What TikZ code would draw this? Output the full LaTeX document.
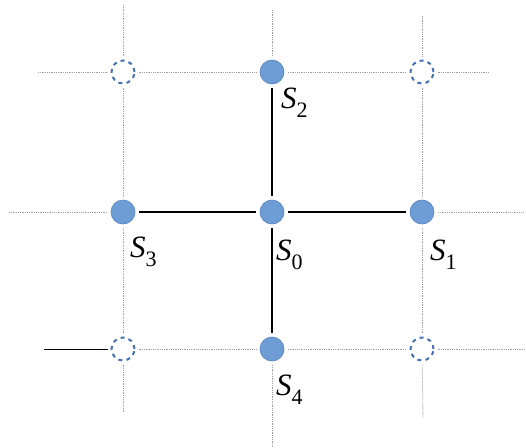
\documentclass[tikz,border=0pt]{standalone}
\usepackage{fontspec}
\setmainfont{Liberation Serif}
\definecolor{ptblue}{HTML}{6E9DD6}
\definecolor{ptedge}{HTML}{5B88C2}
\definecolor{dashblue}{HTML}{4472B8}
\begin{document}
\begin{tikzpicture}[x=1pt,y=-1pt,
  pt/.style={circle, minimum size=24pt, inner sep=0pt, outer sep=4pt, fill=ptblue, draw=ptedge, line width=0.7pt},
  ghost/.style={circle, minimum size=23pt, inner sep=0pt, outer sep=4pt, draw=dashblue, line width=2pt, dash pattern=on 4pt off 4.2pt},
  dotln/.style={draw=gray!75, line width=0.9pt, dash pattern=on 0.8pt off 1pt},
  solidln/.style={draw=black, line width=1.3pt},
  lab/.style={anchor=base west, inner sep=0pt, font=\fontsize{31}{31}\selectfont}
]
\useasboundingbox (0,0) rectangle (526,447);
\newcommand{\lbl}[1]{\textit{S}\raisebox{-9pt}{\fontsize{22}{22}\selectfont #1}}
% grid points
\node[ghost] (a) at (123,72) {};
\node[pt]    (s2) at (272,72) {};
\node[ghost] (b) at (422,72) {};
\node[pt]    (s3) at (123,212) {};
\node[pt]    (s0) at (272,212) {};
\node[pt]    (s1) at (422,212) {};
\node[ghost] (c) at (123,349) {};
\node[pt]    (s4) at (272,349) {};
\node[ghost] (d) at (422,349) {};
% free ends
\coordinate (t1) at (123,5);
\coordinate (t2) at (272,10);
\coordinate (t3) at (422,16);
\coordinate (u1) at (123,412);
\coordinate (u2) at (272,447);
\coordinate (u3) at (423,418);
\coordinate (l1) at (38,72);
\coordinate (l2) at (9,212);
\coordinate (l3) at (44,349);
\coordinate (r1) at (488,72);
\coordinate (r2) at (524,212);
\coordinate (r3) at (525,349);
% dotted lines
\draw[dotln] (t1) -- (a); \draw[dotln] (a) -- (s3); \draw[dotln] (s3) -- (c); \draw[dotln] (c) -- (u1);
\draw[dotln] (t2) -- (s2); \draw[dotln] (s4) -- (u2);
\draw[dotln] (t3) -- (b); \draw[dotln] (b) -- (s1); \draw[dotln] (s1) -- (d); \draw[dotln] (d) -- (u3);
\draw[dotln] (l1) -- (a); \draw[dotln] (a) -- (s2); \draw[dotln] (s2) -- (b); \draw[dotln] (b) -- (r1);
\draw[dotln] (l2) -- (s3); \draw[dotln] (s1) -- (r2);
\draw[dotln] (c) -- (s4); \draw[dotln] (s4) -- (d); \draw[dotln] (d) -- (r3);
% solid lines
\draw[solidln] (s0) -- (s1);
\draw[solidln] (s0) -- (s2);
\draw[solidln] (s0) -- (s3);
\draw[solidln] (s0) -- (s4);
\draw[draw=black, line width=1pt] (l3) -- (c);
% labels
\node[lab] (L2) at (281,108) {\lbl{2}};
\node[lab] (L3) at (130,257) {\lbl{3}};
\node[lab] (L0) at (276,260) {\lbl{0}};
\node[lab] (L1) at (430,260) {\lbl{1}};
\node[lab] (L4) at (276,395) {\lbl{4}};
\end{tikzpicture}
\end{document}
